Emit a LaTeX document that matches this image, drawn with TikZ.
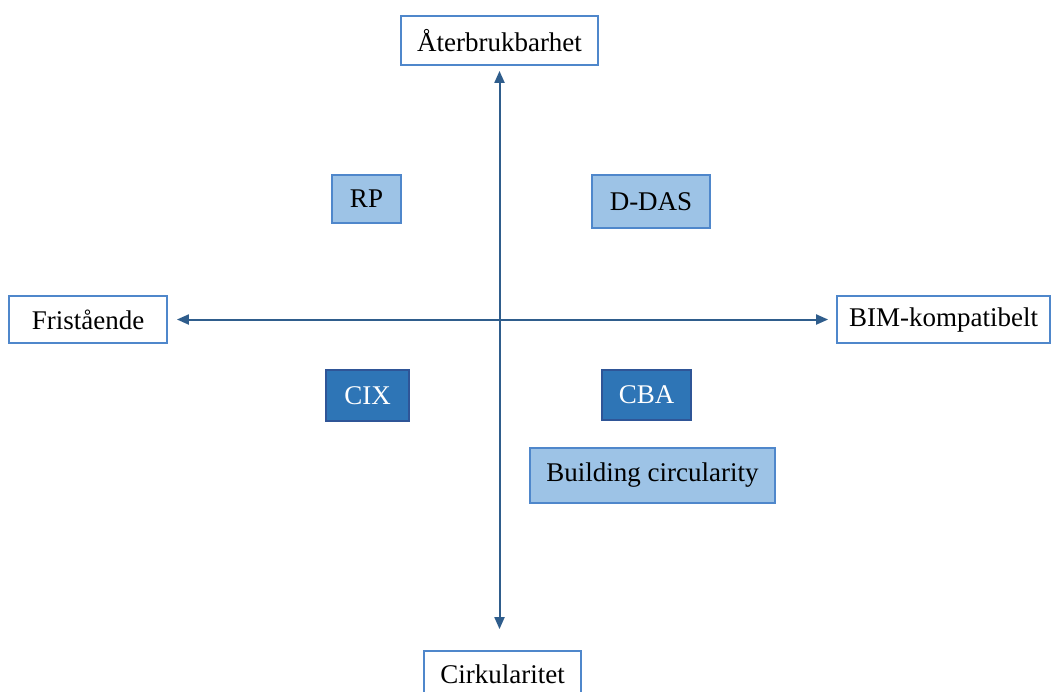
\documentclass[tikz,border=0pt]{standalone}
\usepackage{fontspec}
\setmainfont{Liberation Serif}
\usetikzlibrary{positioning,arrows.meta}

\definecolor{axisblue}{HTML}{2F5D8C}
\definecolor{lineblue}{HTML}{4F87CB}
\definecolor{lightfill}{HTML}{9DC3E6}
\definecolor{darkfill}{HTML}{2E75B6}
\definecolor{darkline}{HTML}{2F5597}

\begin{document}
\begin{tikzpicture}[x=0.5pt, y=-0.5pt, every node/.style={rectangle, inner sep=0pt, text centered, font=\fontsize{13.5}{16}\selectfont},
  axisbox/.style={draw=lineblue, line width=0.9pt, fill=white},
  lightbox/.style={draw=lineblue, fill=lightfill, line width=0.6pt},
  darkbox/.style={draw=darkline, fill=darkfill, text=white, line width=0.6pt},
  axisline/.style={{Triangle[length=6pt,width=5pt]}-{Triangle[length=6pt,width=5pt]}, draw=axisblue, line width=1pt}]
\useasboundingbox (0,0) rectangle (1052,691);

% axis ends
\node[axisbox, minimum width=98.5pt, minimum height=24.5pt] (ater) at (499.5,40.5) {Återbrukbarhet};
\node[axisbox, minimum width=79pt, minimum height=23.5pt] (fri) at (88,319.5) {Fristående};
\node[axisbox, minimum width=106.5pt, minimum height=23.5pt] (bim) at (943.5,319.5) {BIM-kompatibelt};
\node[axisbox, minimum width=78.5pt, minimum height=23.5pt] (cirk) at (502.5,674.5) {Cirkularitet};

% tools
\node[lightbox, minimum width=34.5pt, minimum height=24pt] (rp) at (366.5,199) {RP};
\node[lightbox, minimum width=59pt, minimum height=26.5pt] (ddas) at (651,201.5) {D-DAS};
\node[darkbox, minimum width=41.5pt, minimum height=25.5pt] (cix) at (367.5,395.5) {CIX};
\node[darkbox, minimum width=44.5pt, minimum height=25pt] (cba) at (646.5,395) {CBA};
\node[lightbox, minimum width=122.5pt, minimum height=27.5pt] (bc) at (652.5,475.5) {Building circularity};

\draw[axisline, shorten <=4.5pt, shorten >=4pt] (fri.east) -- (fri.east -| bim.west);
\draw[axisline, shorten <=2.5pt, shorten >=10.5pt] (ater.south) -- (ater.south |- cirk.north);
\end{tikzpicture}
\end{document}
